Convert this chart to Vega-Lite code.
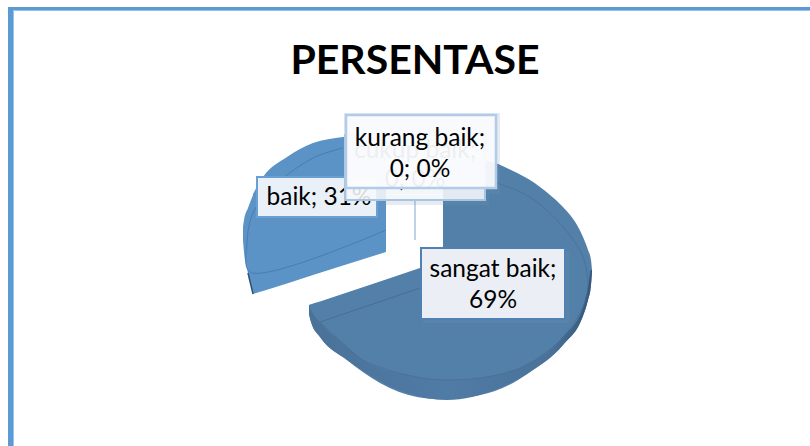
{
"$schema":"https://vega.github.io/schema/vega-lite/v6.json",
"width":810,"height":446,"padding":0,"autosize":{"type":"none"},
"background":"white",
"view":{"stroke":null},
"title":{"text":"PERSENTASE","font":"Lato","fontWeight":"bold","fontSize":41,"color":"#000000","anchor":"middle","orient":"top","offset":-124,"baseline":"bottom","dx":10},
"datasets":{
"frame":[{"x":8,"x2":13,"y":7,"y2":446},{"x":8,"x2":810,"y":7,"y2":10}],
"frame2":[{"x":13,"x2":14,"y":10,"y2":446},{"x":13,"x2":810,"y":10,"y2":11}],
"sangatL":[{"x":309,"y":305,"y2":314},{"x":311,"y":304.3,"y2":322},{"x":320,"y":301.5,"y2":337},{"x":347,"y":292.5,"y2":360},{"x":380,"y":281.5,"y2":383},{"x":417,"y":269,"y2":397},{"x":443.5,"y":260,"y2":399.5}],
"sangatR":[{"x":443,"y":158,"y2":399.5},{"x":480,"y":160,"y2":395},{"x":495,"y":163,"y2":391},{"x":513,"y":171,"y2":383},{"x":530,"y":180,"y2":372},{"x":550,"y":195,"y2":357},{"x":563,"y":207,"y2":345},{"x":577,"y":225,"y2":327},{"x":583,"y":237,"y2":316},{"x":588,"y":250,"y2":300},{"x":591,"y":260,"y2":285},{"x":592,"y":270,"y2":272}],
"sangatSide":[{"x":309,"y":305,"y2":314},{"x":311,"y":310,"y2":322},{"x":320,"y":322,"y2":337},{"x":347,"y":347,"y2":360},{"x":363,"y":360,"y2":371},{"x":407,"y":375,"y2":393},{"x":447,"y":380,"y2":400},{"x":497,"y":375,"y2":389},{"x":530,"y":363,"y2":372},{"x":563,"y":337,"y2":345},{"x":583,"y":307,"y2":316},{"x":588,"y":287,"y2":300},{"x":591,"y":270,"y2":285},{"x":592,"y":270,"y2":272}],
"sangatArc":[{"x":320,"y":322,"o":0},{"x":347,"y":347,"o":1},{"x":363,"y":360,"o":2},{"x":407,"y":375,"o":3},{"x":447,"y":380,"o":4},{"x":497,"y":375,"o":5},{"x":530,"y":363,"o":6},{"x":563,"y":337,"o":7},{"x":583,"y":307,"o":8},{"x":588,"y":287,"o":9},{"x":583,"y":257,"o":10},{"x":563,"y":227,"o":11},{"x":530,"y":197,"o":12},{"x":497,"y":183,"o":13}],
"sangatCut":[{"x":320,"y":322},{"x":420,"y":288}],
"baikL":[{"x":243,"y":227,"y2":240},{"x":244,"y":220,"y2":252},{"x":248,"y":208,"y2":273},{"x":253.5,"y":194,"y2":294}],
"baikR":[{"x":253,"y":194,"y2":294},{"x":263,"y":177,"y2":291},{"x":287,"y":157,"y2":283.5},{"x":313,"y":143,"y2":275},{"x":343,"y":137,"y2":265.5},{"x":386,"y":132,"y2":252}],
"baikArc":[{"x":386,"y":230,"o":0},{"x":250,"y":272,"o":1},{"x":247,"y":243,"o":2},{"x":253,"y":213,"o":3},{"x":273,"y":187,"o":4},{"x":313,"y":158,"o":5},{"x":343,"y":148,"o":6}],
"baikEdge":[{"x":248,"y":273},{"x":253,"y":294}],
"leader":[{"x":415,"y":198,"y2":240}],
"shadows":[
{"x":344,"x2":500,"y":113,"y2":194},
{"x":343,"x2":489,"y":195,"y2":205},
{"x":259,"x2":381,"y":181,"y2":221},
{"x":423,"x2":569,"y":252,"y2":323}],
"boxes":[
{"k":"baik","x":257,"x2":377,"y":177,"y2":217},
{"k":"sangat","x":421,"x2":565,"y":248,"y2":319},
{"k":"cukup","x":345,"x2":485,"y":135,"y2":200},
{"k":"kurang","x":346,"x2":496,"y":115,"y2":188}],
"texts":[
{"k":"baik","x":319,"y":198,"t":"baik; 31%"},
{"k":"sangat","x":493,"y":270,"t":"sangat baik;"},
{"k":"sangat","x":493,"y":301,"t":"69%"},
{"k":"cukup","x":415,"y":151,"t":"cukup baik;"},
{"k":"cukup","x":415,"y":180,"t":"0; 0%"},
{"k":"kurang","x":420,"y":139,"t":"kurang baik;"},
{"k":"kurang","x":420,"y":170,"t":"0; 0%"}]
},
"encoding":{
"x":{"field":"x","type":"quantitative","scale":{"domain":[0,810],"nice":false,"zero":false},"axis":null},
"y":{"field":"y","type":"quantitative","scale":{"domain":[0,446],"reverse":true,"nice":false,"zero":false},"axis":null}
},
"layer":[
{"data":{"name":"frame"},"mark":{"type":"rect","color":"#5b9bd5"},"encoding":{"x2":{"field":"x2"},"y2":{"field":"y2"}}},
{"data":{"name":"frame2"},"mark":{"type":"rect","color":"#9cc2e8"},"encoding":{"x2":{"field":"x2"},"y2":{"field":"y2"}}},
{"data":{"name":"baikL"},"mark":{"type":"area","color":"#5b93c7","interpolate":"monotone"},"encoding":{"y2":{"field":"y2"}}},
{"data":{"name":"baikR"},"mark":{"type":"area","color":"#5b93c7","interpolate":"monotone"},"encoding":{"y2":{"field":"y2"}}},
{"data":{"name":"baikEdge"},"mark":{"type":"line","color":"#2f5173","strokeWidth":1.5},"encoding":{}},
{"data":{"name":"baikArc"},"mark":{"type":"line","color":"#3f6f9e","strokeWidth":0.8,"opacity":0.8,"interpolate":"catmull-rom"},"encoding":{"order":{"field":"o"}}},
{"data":{"name":"sangatL"},"mark":{"type":"area","color":"#5380a9","interpolate":"monotone"},"encoding":{"y2":{"field":"y2"}}},
{"data":{"name":"sangatR"},"mark":{"type":"area","color":"#5380a9","interpolate":"monotone"},"encoding":{"y2":{"field":"y2"}}},
{"data":{"name":"sangatSide"},"mark":{"type":"area","interpolate":"monotone","color":{"x1":0,"y1":0,"x2":1,"y2":0,"gradient":"linear","stops":[{"offset":0,"color":"#4a7299"},{"offset":0.5,"color":"#507ba5"},{"offset":0.85,"color":"#4a7299"},{"offset":1,"color":"#34577a"}]}},"encoding":{"y2":{"field":"y2"}}},
{"data":{"name":"sangatArc"},"mark":{"type":"line","color":"#46698c","strokeWidth":0.8,"opacity":0.7,"interpolate":"catmull-rom"},"encoding":{"order":{"field":"o"}}},
{"data":{"name":"sangatCut"},"mark":{"type":"line","color":"#46698c","strokeWidth":0.8},"encoding":{}},
{"data":{"name":"leader"},"mark":{"type":"rule","color":"#a8c4e3","strokeWidth":1.5},"encoding":{"y2":{"field":"y2"}}},
{"data":{"name":"shadows"},"mark":{"type":"rect","fill":"#6f8fb3","fillOpacity":0.18},"encoding":{"x2":{"field":"x2"},"y2":{"field":"y2"}}},
{"data":{"name":"boxes"},"transform":[{"filter":"datum.k==='sangat'"}],"mark":{"type":"rect","fill":"#ebeff5","stroke":"#4f81b5","strokeWidth":2},"encoding":{"x2":{"field":"x2"},"y2":{"field":"y2"}}},
{"data":{"name":"texts"},"transform":[{"filter":"datum.k==='sangat'"}],"mark":{"type":"text","font":"Lato","fontSize":24.5,"color":"#000000","align":"center","baseline":"middle"},"encoding":{"text":{"field":"t"}}},
{"data":{"name":"boxes"},"transform":[{"filter":"datum.k==='baik'"}],"mark":{"type":"rect","fill":"#eaf0f7","stroke":"#6a9fd4","strokeWidth":2},"encoding":{"x2":{"field":"x2"},"y2":{"field":"y2"}}},
{"data":{"name":"texts"},"transform":[{"filter":"datum.k==='baik'"}],"mark":{"type":"text","font":"Lato","fontSize":24.5,"color":"#000000","align":"center","baseline":"middle"},"encoding":{"text":{"field":"t"}}},
{"data":{"name":"boxes"},"transform":[{"filter":"datum.k==='cukup'"}],"mark":{"type":"rect","fill":"#f6f8fb","fillOpacity":0.88,"stroke":"#a8c4e3","strokeWidth":2},"encoding":{"x2":{"field":"x2"},"y2":{"field":"y2"}}},
{"data":{"name":"texts"},"transform":[{"filter":"datum.k==='cukup'"}],"mark":{"type":"text","font":"Lato","fontSize":24.5,"color":"#000000","align":"center","baseline":"middle"},"encoding":{"text":{"field":"t"}}},
{"data":{"name":"boxes"},"transform":[{"filter":"datum.k==='kurang'"}],"mark":{"type":"rect","fill":"#fafbfd","fillOpacity":0.95,"stroke":"#b2cbe8","strokeWidth":2.5},"encoding":{"x2":{"field":"x2"},"y2":{"field":"y2"}}},
{"data":{"name":"texts"},"transform":[{"filter":"datum.k==='kurang'"}],"mark":{"type":"text","font":"Lato","fontSize":24.5,"color":"#000000","align":"center","baseline":"middle"},"encoding":{"text":{"field":"t"}}}
]
}
